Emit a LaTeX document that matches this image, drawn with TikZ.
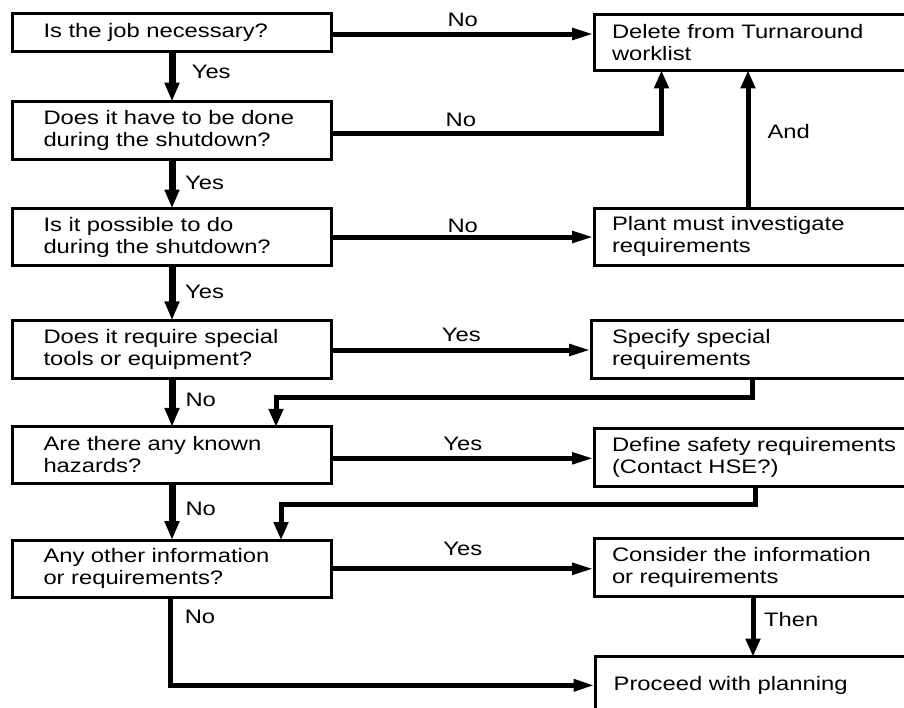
\documentclass[tikz,border=0pt]{standalone}
\usepackage{fontspec}
\setmainfont{Liberation Sans}[FakeStretch=1.22]
\usetikzlibrary{arrows.meta,calc}
\begin{document}
\begin{tikzpicture}[x=1pt,y=-1pt,
  font=\fontsize{19.5pt}{22pt}\selectfont,
  box/.style={draw, line width=3pt, outer sep=0pt, inner ysep=0pt, align=left, anchor=west},
  lbox/.style={box, text width=257pt, inner xsep=31pt},
  rbox/.style={box, text width=300pt, inner xsep=18pt},
  conn/.style={line width=5pt},
  mainv/.style={line width=7pt, -{Triangle[length=19pt,width=14pt]}},
  harrow/.style={conn, -{Triangle[length=22pt,width=11pt]}},
  varrow/.style={conn, -{Triangle[length=18pt,width=14pt]}},
  hlab/.style={anchor=base, inner sep=0pt},
  vlab/.style={anchor=base west, inner sep=0pt},
]
\useasboundingbox (0,0) rectangle (904,707);
\clip (0,0) rectangle (904,707);

% left column
\node[lbox, minimum height=37.5pt] (L1) at (12.5,32.5) {\mbox{Is the job necessary?}};
\node[lbox, minimum height=58.3pt] (L2) at (12.5,130.7) {\mbox{Does it have to be done}\\\mbox{during the shutdown?}};
\node[lbox, minimum height=57pt] (L3) at (12.5,237) {\mbox{Is it possible to do}\\\mbox{during the shutdown?}};
\node[lbox, minimum height=58pt] (L4) at (12.5,349.3) {\mbox{Does it require special}\\\mbox{tools or equipment?}};
\node[lbox, minimum height=56.3pt] (L5) at (12.5,455) {\mbox{Are there any known}\\\mbox{hazards?}};
\node[lbox, minimum height=57.5pt] (L6) at (12.5,568.8) {\mbox{Any other information}\\\mbox{or requirements?}};

% right column
\node[rbox, minimum height=56.3pt] (R1) at (594,42.2) {Delete from Turnaround\\worklist};
\node[rbox, minimum height=57.3pt] (R2) at (594,236.7) {Plant must investigate\\requirements};
\node[rbox, minimum height=58.3pt, inner xsep=21pt] (R3) at (591,349.8) {Specify special\\requirements};
\node[rbox, minimum height=58pt] (R4) at (594,457) {Define safety requirements\\(Contact HSE?)};
\node[rbox, minimum height=58.3pt] (R5) at (594,567.8) {Consider the information\\or requirements};
\node[rbox, minimum height=57.3pt] (R6) at (595.7,685.3) {Proceed with planning};

% main vertical flow
\draw[mainv] (L1.south) -- (L2.north) node[vlab, pos=0.55, xshift=16.3pt]{Yes};
\draw[mainv] (L2.south) -- (L3.north) node[vlab, pos=0.61, xshift=9.7pt]{Yes};
\draw[mainv] (L3.south) -- (L4.north) node[vlab, pos=0.6, xshift=9.7pt]{Yes};
\draw[mainv] (L4.south) -- (L5.north) node[vlab, pos=0.58, xshift=10pt]{No};
\draw[mainv] (L5.south) -- (L6.north) node[vlab, pos=0.56, xshift=10pt]{No};

% branches
\draw[harrow] ([yshift=-1.5pt]L1.east) -- ([yshift=-1.5pt]L1.east -| R1.west) node[hlab, midway, yshift=7.3pt]{No};
\draw[varrow] ([yshift=-2.5pt]L2.east) -| ([xshift=67.5pt]R1.south west) node[hlab, pos=0.196, yshift=6.6pt]{No};
\draw[harrow] (L3.east) -- (L3.east -| R2.west) node[hlab, midway, yshift=4.5pt]{No};
\draw[varrow] ([xshift=154pt]R2.north west) -- ([xshift=154pt]R2.north west |- R1.south) node[vlab, pos=0.506, xshift=17pt]{And};
\draw[harrow] ([yshift=-0.7pt]L4.east) -- ([yshift=-0.7pt]L4.east -| R3.west) node[hlab, midway, yshift=8.3pt]{Yes};
\draw[varrow] ([xshift=161pt]R3.south west) -- ++(0,18.3) -| ([xshift=263.5pt]L5.north west);
\draw[harrow] ([yshift=-3.3pt]L5.east) -- ([yshift=-3.3pt]L5.east -| R4.west) node[hlab, midway, yshift=7.6pt]{Yes};
\draw[varrow] ([xshift=161pt]R4.south west) -- ++(0,18.2) -| ([xshift=268.5pt]L6.north west);
\draw[harrow] (L6.east) -- (L6.east -| R5.west) node[hlab, midway, yshift=13pt]{Yes};
\draw[varrow] ([xshift=159pt]R5.south west) -- ([xshift=159pt]R5.south west |- R6.north) node[vlab, midway, xshift=8.7pt]{Then};
\draw[harrow, line width=5.5pt] ([xshift=-1.5pt]L6.south) |- (R6.west) node[vlab, pos=0.15, xshift=11.5pt]{No};
\end{tikzpicture}
\end{document}
